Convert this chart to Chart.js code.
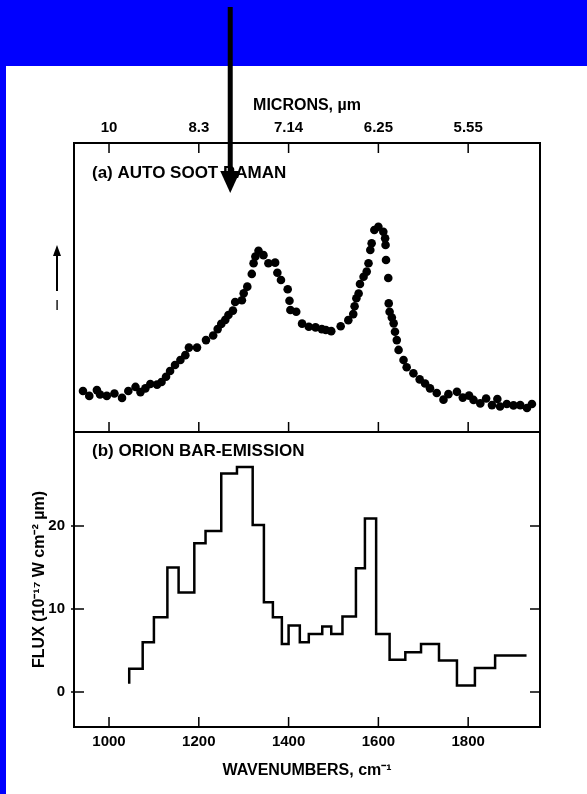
<!DOCTYPE html>
<html>
<head>
<meta charset="utf-8">
<script src="https://cdn.jsdelivr.net/npm/chart.js@4.4.0/dist/chart.umd.min.js"></script>
<style>
  html, body { margin: 0; padding: 0; }
  body { width: 587px; height: 794px; background: #0000ff; position: relative; overflow: hidden; }
  #sheet { position: absolute; left: 6px; top: 66px; right: 0; bottom: 0; background: #fff; }
  canvas { position: absolute; left: 0; }
  #top { top: 0; }
  #bottom { top: 425px; }
</style>
</head>
<body>
<div id="sheet"></div>
<canvas id="top" width="587" height="442"></canvas>
<canvas id="bottom" width="587" height="369"></canvas>
<script>
// axis ticks (wavenumber, cm-1) and the matching wavelengths shown on top
const WAVENUMBER_TICKS = [1000, 1200, 1400, 1600, 1800];
const MICRON_LABELS = ['10', '8.3', '7.14', '6.25', '5.55'];
const FLUX_TICKS = [0, 10, 20];
const ARROW_AT = 1270;

// (a) auto soot Raman spectrum, arbitrary intensity
const sootWavenumber = [942, 956, 973, 980, 995, 1012, 1029, 1043, 1059, 1070,
  1081, 1092, 1107, 1117, 1127, 1136, 1147, 1159, 1170, 1178,
  1196, 1216, 1232, 1242, 1250, 1259, 1266, 1276, 1281, 1296,
  1300, 1308, 1318, 1322, 1326, 1333, 1344, 1355, 1370, 1375,
  1383, 1398, 1402, 1404, 1417, 1430, 1445, 1460, 1474, 1483,
  1495, 1516, 1533, 1544, 1547, 1551, 1556, 1559, 1567, 1574,
  1578, 1582, 1585, 1591, 1600, 1611, 1615, 1616, 1617, 1622,
  1623, 1625, 1630, 1634, 1637, 1641, 1645, 1656, 1663, 1678,
  1692, 1704, 1715, 1730, 1745, 1756, 1775, 1788, 1802, 1812,
  1827, 1840, 1853, 1865, 1871, 1886, 1901, 1916, 1931, 1942];
const sootIntensity = [14.2, 12.5, 14.5, 13.0, 12.5, 13.3, 11.8, 14.2, 15.6, 13.8,
  15.1, 16.6, 16.4, 17.3, 19.1, 21.1, 23.2, 24.9, 26.6, 29.2,
  29.2, 31.8, 33.4, 35.6, 37.4, 38.8, 40.5, 42.0, 45.0, 45.6,
  48.0, 50.3, 54.7, 58.4, 60.7, 62.7, 61.2, 58.4, 58.6, 55.1,
  52.6, 49.4, 45.4, 42.2, 41.6, 37.5, 36.4, 36.2, 35.6, 35.3,
  34.9, 36.6, 38.7, 40.8, 43.5, 46.3, 47.9, 51.2, 53.7, 55.5,
  58.4, 63.0, 65.3, 69.9, 71.0, 69.3, 67.0, 64.7, 59.5, 53.3,
  44.5, 41.6, 39.6, 37.6, 34.7, 31.8, 28.4, 24.9, 22.4, 20.3,
  18.2, 16.8, 15.1, 13.5, 11.2, 13.1, 13.9, 11.9, 12.6, 11.1,
  9.9, 11.6, 9.3, 11.4, 8.8, 9.7, 9.2, 9.3, 8.3, 9.7];

// (b) Orion bar emission, bin edges and flux per bin
const orionEdges = [1045, 1075, 1100, 1130, 1155, 1190, 1215, 1250, 1285, 1320, 1345,
  1365, 1385, 1400, 1425, 1445, 1475, 1495, 1520, 1550, 1570,
  1595, 1625, 1660, 1695, 1735, 1775, 1815, 1860, 1910, 1930];
const orionFlux = [1.0, 2.8, 6.0, 9.0, 15.0, 12.0, 17.9, 19.4, 26.3, 27.1,
  20.1, 10.8, 9.0, 5.8, 8.0, 6.0, 7.0, 7.9, 7.0, 9.1,
  14.9, 20.9, 7.0, 3.9, 4.8, 5.8, 3.8, 0.8, 2.9, 4.4];

Chart.defaults.font.family = '"Liberation Sans", Arial, sans-serif';
Chart.defaults.color = '#000';

const X_MIN = 922, X_MAX = 1960;
const wavenumberTicks = s => { s.ticks = WAVENUMBER_TICKS.map(v => ({ value: v })); };
const noEdgePadding = s => { s.paddingTop = 0; s.paddingBottom = 0; s.paddingLeft = 0; s.paddingRight = 0; };

// box round the plot, inward ticks and the panel caption
const framePlugin = {
  id: 'frame',
  afterDraw(chart, args, opts) {
    const { ctx, chartArea: a } = chart;
    const x = chart.scales.x;
    ctx.save();
    ctx.strokeStyle = '#000';
    ctx.lineWidth = 2;
    ctx.strokeRect(a.left, a.top, a.width, a.height);
    ctx.lineWidth = 1.5;
    ctx.beginPath();
    WAVENUMBER_TICKS.forEach(v => {
      const px = x.getPixelForValue(v);
      if (opts.topTicks) { ctx.moveTo(px, a.top); ctx.lineTo(px, a.top + 10); }
      ctx.moveTo(px, a.bottom); ctx.lineTo(px, a.bottom - 10);
    });
    if (opts.yTicks) {
      const y = chart.scales.y;
      opts.yTicks.forEach(v => {
        const py = y.getPixelForValue(v);
        ctx.moveTo(a.left - 3, py); ctx.lineTo(a.left + 10, py);
        ctx.moveTo(a.right, py); ctx.lineTo(a.right - 10, py);
      });
    }
    ctx.stroke();
    ctx.fillStyle = '#000';
    ctx.font = 'bold 17px "Liberation Sans", Arial, sans-serif';
    ctx.textBaseline = 'middle';
    ctx.fillText(opts.label, a.left + 18, a.top + opts.labelDy);
    ctx.restore();
  }
};

// big pointer from the top and the small intensity arrow at the left
const arrowPlugin = {
  id: 'arrows',
  afterDraw(chart) {
    const { ctx } = chart;
    const px = chart.scales.x.getPixelForValue(ARROW_AT);
    ctx.save();
    ctx.fillStyle = '#000';
    ctx.fillRect(px - 2.5, 7, 5, 168);
    ctx.beginPath();
    ctx.moveTo(px - 10, 171);
    ctx.lineTo(px + 10, 171);
    ctx.lineTo(px, 193);
    ctx.closePath();
    ctx.fill();

    ctx.strokeStyle = '#000';
    ctx.lineWidth = 2;
    ctx.beginPath();
    ctx.moveTo(57, 291);
    ctx.lineTo(57, 252);
    ctx.stroke();
    ctx.beginPath();
    ctx.moveTo(53, 256);
    ctx.lineTo(61, 256);
    ctx.lineTo(57, 245);
    ctx.closePath();
    ctx.fill();
    ctx.font = '15px "Liberation Sans", Arial, sans-serif';
    ctx.textAlign = 'center';
    ctx.textBaseline = 'middle';
    ctx.fillText('I', 57, 306);
    ctx.restore();
  }
};

new Chart(document.getElementById('top'), {
  type: 'scatter',
  data: {
    datasets: [{
      data: sootWavenumber.map((w, i) => ({ x: w, y: sootIntensity[i] })),
      pointRadius: 4.3,
      pointBackgroundColor: '#000',
      pointBorderWidth: 0
    }]
  },
  options: {
    responsive: false,
    animation: false,
    devicePixelRatio: 1,
    layout: { padding: { left: 74, right: 47, top: 0, bottom: 10 } },
    plugins: {
      legend: { display: false },
      tooltip: { enabled: false },
      frame: { topTicks: true, label: '(a) AUTO SOOT RAMAN', labelDy: 30 }
    },
    scales: {
      x: { type: 'linear', min: X_MIN, max: X_MAX, display: false, afterBuildTicks: wavenumberTicks },
      xTop: {
        type: 'linear', position: 'top', min: X_MIN, max: X_MAX,
        afterBuildTicks: wavenumberTicks,
        afterFit: s => { s.height = 143; noEdgePadding(s); },
        grid: { display: false, drawTicks: false },
        border: { display: false },
        ticks: {
          padding: 6,
          maxRotation: 0,
          font: { size: 15, weight: 'bold' },
          callback: (v, i) => MICRON_LABELS[i]
        },
        title: {
          display: true, text: 'MICRONS, \u00b5m',
          font: { size: 16, weight: 'bold' },
          padding: { top: 96, bottom: 0 }
        }
      },
      y: { min: 0, max: 100, display: false }
    }
  },
  plugins: [framePlugin, arrowPlugin]
});

new Chart(document.getElementById('bottom'), {
  type: 'line',
  data: {
    datasets: [{
      data: orionEdges.map((w, i) => ({ x: w, y: orionFlux[Math.min(i, orionFlux.length - 1)] })),
      stepped: 'after',
      borderColor: '#000',
      borderWidth: 2.5,
      pointRadius: 0,
      fill: false
    }]
  },
  options: {
    responsive: false,
    animation: false,
    devicePixelRatio: 1,
    layout: { padding: { left: 0, right: 47, top: 7, bottom: 0 } },
    plugins: {
      legend: { display: false },
      tooltip: { enabled: false },
      frame: { yTicks: FLUX_TICKS, label: '(b) ORION BAR-EMISSION', labelDy: 19 }
    },
    scales: {
      x: {
        type: 'linear', min: X_MIN, max: X_MAX,
        afterBuildTicks: wavenumberTicks,
        afterFit: s => { s.height = 67; noEdgePadding(s); },
        grid: { display: false, drawTicks: false },
        border: { display: false },
        ticks: { padding: 6, maxRotation: 0, font: { size: 15, weight: 'bold' }, callback: v => String(v) },
        title: {
          display: true, text: 'WAVENUMBERS, cm\u207b\u00b9',
          font: { size: 16, weight: 'bold' },
          padding: { top: 0, bottom: 14 }
        }
      },
      y: {
        min: -4.2, max: 31.3,
        afterBuildTicks: s => { s.ticks = FLUX_TICKS.map(v => ({ value: v })); },
        afterFit: s => { s.width = 74; noEdgePadding(s); },
        grid: { display: false, drawTicks: false },
        border: { display: false },
        ticks: { padding: 9, font: { size: 15, weight: 'bold' }, callback: v => String(v) },
        title: {
          display: true, text: 'FLUX (10\u207b\u00b9\u2077 W cm\u207b\u00b2 \u00b5m)',
          font: { size: 16, weight: 'bold' },
          padding: { top: 30, bottom: 0 }
        }
      }
    }
  },
  plugins: [framePlugin]
});
</script>
</body>
</html>
